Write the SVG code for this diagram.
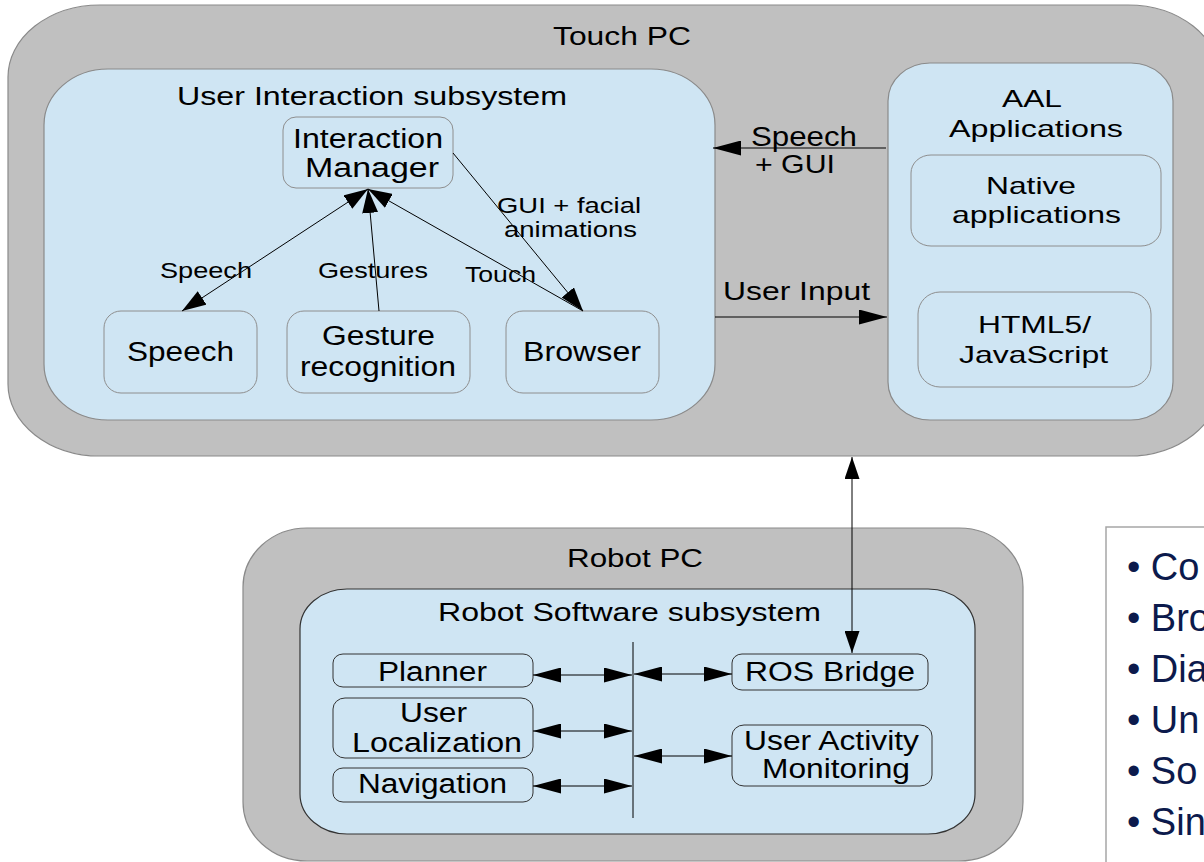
<svg xmlns="http://www.w3.org/2000/svg" width="1204" height="862" viewBox="0 0 1204 862">
  <style>
    text { font-family: "Liberation Sans", Arial, sans-serif; fill: #000; }
    .outer { fill: #c0c0c0; stroke: #8a8a8a; stroke-width: 1.2; }
    .sub { fill: #cfe5f3; stroke: #8a8a8a; stroke-width: 1.2; }
    .box { fill: #cfe5f3; stroke: #8e8e8e; stroke-width: 1; }
    .rsub { fill: #cfe5f3; stroke: #333; stroke-width: 1.2; }
    .rbox { fill: #cfe5f3; stroke: #333; stroke-width: 1; }
    .t25 { font-size: 25px; }
    .t27 { font-size: 27px; }
    .t24 { font-size: 24px; }
    .t22 { font-size: 22px; }
    .bul { font-size: 38px; fill: #0c1a4c; }
    .wire { fill: none; stroke: #000; stroke-width: 1; }
  </style>
  <defs>
    <marker id="ah" markerUnits="userSpaceOnUse" markerWidth="28" markerHeight="15" refX="28" refY="7.5" orient="auto-start-reverse">
      <path d="M0,0 L28,7.5 L0,15 z" fill="#000"/>
    </marker>
    <marker id="av" markerUnits="userSpaceOnUse" markerWidth="22" markerHeight="15" refX="22" refY="7.5" orient="auto-start-reverse">
      <path d="M0,0 L22,7.5 L0,15 z" fill="#000"/>
    </marker>
    <marker id="ad" markerUnits="userSpaceOnUse" markerWidth="24" markerHeight="16" refX="24" refY="8" orient="auto-start-reverse">
      <path d="M0,0 L24,8 L0,16 z" fill="#000"/>
    </marker>
  </defs>

  <!-- Touch PC container -->
  <g id="touch-pc">
    <rect class="outer" x="8" y="5" width="1212" height="451" rx="92" ry="72"/>
    <text class="t25" x="553" y="45" textLength="138" lengthAdjust="spacingAndGlyphs">Touch PC</text>
  </g>

  <!-- User Interaction subsystem -->
  <g id="user-interaction">
    <rect class="sub" x="44" y="69" width="671" height="351" rx="64" ry="56"/>
    <text class="t25" x="177" y="105" textLength="390" lengthAdjust="spacingAndGlyphs">User Interaction subsystem</text>
  </g>

  <g id="interaction-manager">
    <rect class="box" x="283" y="117" width="170" height="71" rx="13" ry="13"/>
    <text class="t27" x="293" y="148" textLength="150" lengthAdjust="spacingAndGlyphs">Interaction</text>
    <text class="t27" x="305" y="177" textLength="134" lengthAdjust="spacingAndGlyphs">Manager</text>
  </g>

  <g id="speech">
    <rect class="box" x="104" y="311" width="153" height="82" rx="17" ry="17"/>
    <text class="t27" x="127" y="361" textLength="107" lengthAdjust="spacingAndGlyphs">Speech</text>
  </g>

  <g id="gesture-recognition">
    <rect class="box" x="287" y="311" width="183" height="82" rx="17" ry="17"/>
    <text class="t27" x="322" y="345" textLength="113" lengthAdjust="spacingAndGlyphs">Gesture</text>
    <text class="t27" x="300" y="376" textLength="156" lengthAdjust="spacingAndGlyphs">recognition</text>
  </g>

  <g id="browser">
    <rect class="box" x="506" y="311" width="153" height="82" rx="17" ry="17"/>
    <text class="t27" x="523" y="361" textLength="118" lengthAdjust="spacingAndGlyphs">Browser</text>
  </g>

  <!-- AAL Applications -->
  <g id="aal-applications">
    <rect class="sub" x="888" y="63" width="285" height="357" rx="42" ry="38"/>
    <text class="t24" x="1002" y="107" textLength="60" lengthAdjust="spacingAndGlyphs">AAL</text>
    <text class="t24" x="949" y="137" textLength="174" lengthAdjust="spacingAndGlyphs">Applications</text>
  </g>

  <g id="native-applications">
    <rect class="box" x="911" y="155" width="250" height="91" rx="20" ry="18"/>
    <text class="t24" x="986" y="194" textLength="90" lengthAdjust="spacingAndGlyphs">Native</text>
    <text class="t24" x="952" y="223" textLength="169" lengthAdjust="spacingAndGlyphs">applications</text>
  </g>

  <g id="html5-javascript">
    <rect class="box" x="918" y="292" width="233" height="95" rx="22" ry="22"/>
    <text class="t24" x="978" y="333" textLength="113" lengthAdjust="spacingAndGlyphs">HTML5/</text>
    <text class="t24" x="959" y="363" textLength="149" lengthAdjust="spacingAndGlyphs">JavaScript</text>
  </g>

  <!-- Robot PC container -->
  <g id="robot-pc">
    <rect class="outer" x="243" y="528" width="780" height="333" rx="64" ry="59"/>
    <text class="t25" x="567" y="567" textLength="136" lengthAdjust="spacingAndGlyphs">Robot PC</text>
  </g>

  <g id="robot-software">
    <rect class="rsub" x="300" y="589" width="675" height="245" rx="47" ry="40"/>
    <text class="t25" x="438" y="621" textLength="383" lengthAdjust="spacingAndGlyphs">Robot Software subsystem</text>
  </g>

  <g id="planner">
    <rect class="rbox" x="333" y="654" width="200" height="33" rx="10" ry="9"/>
    <text class="t27" x="378" y="681" textLength="109" lengthAdjust="spacingAndGlyphs">Planner</text>
  </g>

  <g id="user-localization">
    <rect class="rbox" x="333" y="698" width="200" height="60" rx="12" ry="11"/>
    <text class="t27" x="400" y="722" textLength="67" lengthAdjust="spacingAndGlyphs">User</text>
    <text class="t27" x="352" y="752" textLength="170" lengthAdjust="spacingAndGlyphs">Localization</text>
  </g>

  <g id="navigation">
    <rect class="rbox" x="333" y="768" width="200" height="34" rx="10" ry="9"/>
    <text class="t27" x="358" y="793" textLength="149" lengthAdjust="spacingAndGlyphs">Navigation</text>
  </g>

  <g id="ros-bridge">
    <rect class="rbox" x="732" y="654" width="196" height="36" rx="10" ry="9"/>
    <text class="t27" x="745" y="681" textLength="170" lengthAdjust="spacingAndGlyphs">ROS Bridge</text>
  </g>

  <g id="user-activity-monitoring">
    <rect class="rbox" x="732" y="725" width="200" height="61" rx="12" ry="11"/>
    <text class="t27" x="744" y="750" textLength="175" lengthAdjust="spacingAndGlyphs">User Activity</text>
    <text class="t27" x="762" y="778" textLength="148" lengthAdjust="spacingAndGlyphs">Monitoring</text>
  </g>

  <!-- Connectors -->
  <g id="connectors">
    <line class="wire" x1="368" y1="189" x2="182" y2="311" marker-start="url(#ad)" marker-end="url(#ad)"/>
    <line class="wire" x1="379" y1="311" x2="368" y2="189" marker-end="url(#ad)"/>
    <line class="wire" x1="583" y1="311" x2="368" y2="189" marker-end="url(#ad)"/>
    <line class="wire" x1="453" y1="153" x2="583" y2="311" marker-end="url(#ad)"/>
    <line class="wire" x1="886" y1="148" x2="713" y2="148" marker-end="url(#ah)"/>
    <line class="wire" x1="715" y1="317" x2="887" y2="317" marker-end="url(#ah)"/>
    <line class="wire" x1="852" y1="457" x2="852" y2="653" marker-start="url(#av)" marker-end="url(#av)"/>
    <line class="wire" x1="633" y1="642" x2="633" y2="818"/>
    <line class="wire" x1="533" y1="675" x2="632" y2="675" marker-start="url(#ah)" marker-end="url(#ah)"/>
    <line class="wire" x1="533" y1="731" x2="632" y2="731" marker-start="url(#ah)" marker-end="url(#ah)"/>
    <line class="wire" x1="533" y1="786" x2="632" y2="786" marker-start="url(#ah)" marker-end="url(#ah)"/>
    <line class="wire" x1="634" y1="674" x2="732" y2="674" marker-start="url(#ah)" marker-end="url(#ah)"/>
    <line class="wire" x1="634" y1="756" x2="732" y2="756" marker-start="url(#ah)" marker-end="url(#ah)"/>
  </g>

  <!-- Connector labels -->
  <g id="connector-labels">
    <text class="t22" x="160" y="278" textLength="92" lengthAdjust="spacingAndGlyphs">Speech</text>
    <text class="t22" x="318" y="278" textLength="110" lengthAdjust="spacingAndGlyphs">Gestures</text>
    <text class="t22" x="465" y="282" textLength="71" lengthAdjust="spacingAndGlyphs">Touch</text>
    <text class="t22" x="497" y="213" textLength="144" lengthAdjust="spacingAndGlyphs">GUI + facial</text>
    <text class="t22" x="504" y="237" textLength="133" lengthAdjust="spacingAndGlyphs">animations</text>
    <text class="t27" x="751" y="146" textLength="106" lengthAdjust="spacingAndGlyphs">Speech</text>
    <text class="t25" x="755" y="173" textLength="80" lengthAdjust="spacingAndGlyphs">+ GUI</text>
    <text class="t25" x="723" y="300" textLength="147" lengthAdjust="spacingAndGlyphs">User Input</text>
  </g>

  <!-- Bullet list panel -->
  <g id="bullet-panel">
    <rect x="1106" y="527" width="110" height="345" fill="#fff" stroke="#a6a6a6" stroke-width="1.5"/>
    <text class="bul" x="1127" y="580">• Co</text>
    <text class="bul" x="1127" y="631">• Bro</text>
    <text class="bul" x="1127" y="682">• Dia</text>
    <text class="bul" x="1127" y="733">• Un</text>
    <text class="bul" x="1127" y="784">• So</text>
    <text class="bul" x="1127" y="835">• Sin</text>
  </g>
</svg>
